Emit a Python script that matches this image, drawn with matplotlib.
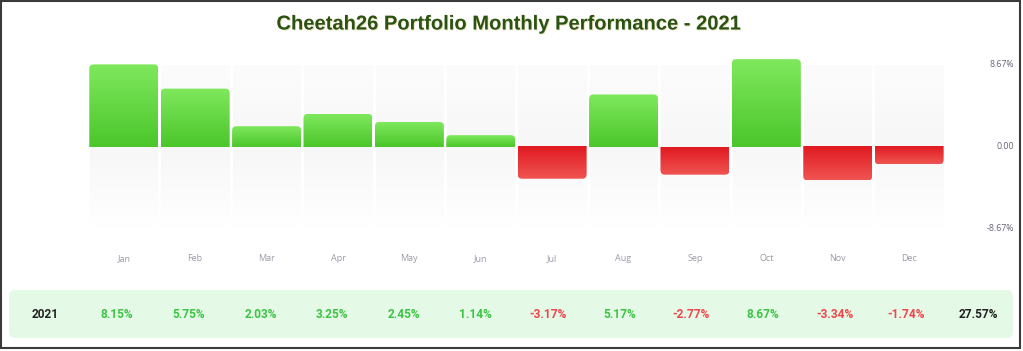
import matplotlib.pyplot as plt
import matplotlib.patheffects as pe
from matplotlib.patches import FancyBboxPatch, Rectangle
from matplotlib.colors import to_rgb
from matplotlib.transforms import blended_transform_factory
import numpy as np

# data
months = ['Jan', 'Feb', 'Mar', 'Apr', 'May', 'Jun', 'Jul', 'Aug', 'Sep', 'Oct', 'Nov', 'Dec']
returns = [8.15, 5.75, 2.03, 3.25, 2.45, 1.14, -3.17, 5.17, -2.77, 8.67, -3.34, -1.74]
year = '2021'
total = 27.57
axis_labels = ['8.67%', '0.00', '-8.67%']

bg_lim = 8.1  # extent of the grey column backdrop (where the axis labels sit)


def vgrad(c_top, c_bot, n=64):
    a = np.array(to_rgb(c_top))
    b = np.array(to_rgb(c_bot))
    t = np.linspace(0, 1, n)[:, None]
    return (a * (1 - t) + b * t)[:, None, :]


fig = plt.figure(figsize=(10.23, 3.51), dpi=100)
ax = fig.add_axes([0.0861, 0.2943, 0.8375, 0.5755])
ax.set_xlim(-0.5, 11.5)
ax.set_ylim(-10, 10)

# background columns
x = np.arange(len(months))
top = vgrad('#fcfcfc', '#f7f7f7')
bot = vgrad('#f7f7f7', '#ffffff')
ax.imshow(top, extent=[-0.5, 11.5, 0, bg_lim], aspect='auto', zorder=0, interpolation='bicubic')
ax.imshow(bot, extent=[-0.5, 11.5, -bg_lim, 0], aspect='auto', zorder=0, interpolation='bicubic')
for b in np.arange(-0.5, 12.0, 1.0):
    ax.axvline(b, color='white', lw=2, zorder=1)

# bars, then gradient fill clipped to rounded shapes
bars = ax.bar(x, returns, width=0.966, color='none', zorder=2)
ry = 0.45
rx = 0.06
for rect, v in zip(bars, returns):
    x0 = rect.get_x()
    w = rect.get_width()
    if v >= 0:
        clip = FancyBboxPatch((x0, -ry), w, v + ry, boxstyle=f'round,pad=0,rounding_size={rx}',
                              mutation_aspect=ry / rx, transform=ax.transData, fc='none', ec='none')
        img = vgrad('#7fe85d', '#4bc62b')
        ext = [x0, x0 + w, 0, v]
    else:
        clip = FancyBboxPatch((x0, v), w, -v + ry, boxstyle=f'round,pad=0,rounding_size={rx}',
                              mutation_aspect=ry / rx, transform=ax.transData, fc='none', ec='none')
        img = vgrad('#e01a21', '#f05452')
        ext = [x0, x0 + w, v, 0]
    ax.add_patch(clip)
    im = ax.imshow(img, extent=ext, aspect='auto', zorder=3, interpolation='bicubic')
    im.set_clip_path(clip)

ax.set_xlim(-0.5, 11.5)
ax.set_ylim(-10, 10)
for s in ax.spines.values():
    s.set_visible(False)
ax.set_yticks([])
ax.set_xticks(x)
ax.set_xticklabels(months, fontsize=6.5, color='#9a9aa8', family='Open Sans')
ax.tick_params(axis='x', length=0, pad=4.5)

# right-hand axis labels
tr = blended_transform_factory(ax.transAxes, ax.transData)
for yv, lab in zip([bg_lim, 0, -bg_lim], axis_labels):
    ax.text(1.0807, yv, lab, transform=tr, ha='right', va='center',
            fontsize=6.3, color='#666677', family='Open Sans')

# title
fig.text(0.497, 1 - 24 / 351, 'Cheetah26 Portfolio Monthly Performance - 2021',
         ha='center', va='center', fontsize=14.5, fontweight='bold', color='#2a5212',
         family='Liberation Sans',
         path_effects=[pe.withSimplePatchShadow(offset=(0.6, -0.6), shadow_rgbFace='#c9b65a', alpha=0.45)])

# summary row
box = FancyBboxPatch((9 / 1023, 13 / 351), 1004 / 1023, 48 / 351,
                     boxstyle='round,pad=0,rounding_size=0.006', mutation_aspect=1023 / 351,
                     transform=fig.transFigure, fc='#e5f9e7', ec='none')
fig.patches.append(box)
row_y = 1 - 314 / 351
cells = [year] + [f'{v:.2f}%' for v in returns] + [f'{total:.2f}%']
cell_colors = ['#222222'] + ['#3cc444' if v >= 0 else '#f2444a' for v in returns] + ['#222222']
for k, (txt, c) in enumerate(zip(cells, cell_colors)):
    fig.text((45 + 71.8 * k) / 1023, row_y, txt, ha='center', va='center',
             fontsize=8.6, fontweight='bold', color=c, family='Roboto')

# outer frame
fig.patches.append(Rectangle((1 / 1023, 3 / 351), 1019 / 1023, 347 / 351, transform=fig.transFigure,
                             fill=False, ec='#3a3a3a', lw=1.5))

fig.savefig('out.png', dpi=100)
